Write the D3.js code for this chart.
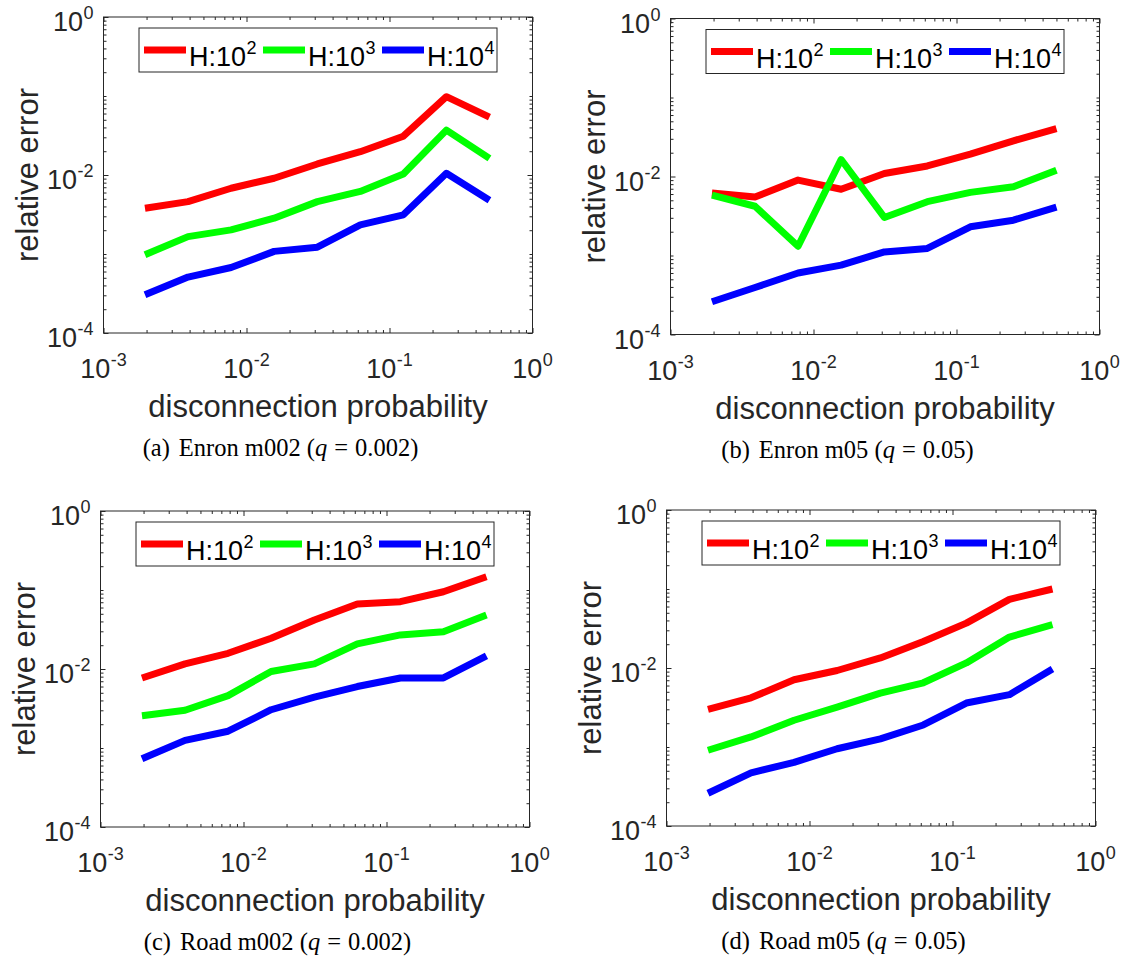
<!DOCTYPE html>
<html>
<head>
<meta charset="utf-8">
<script src="https://cdn.jsdelivr.net/npm/d3@7"></script>
<style>
  body { margin: 0; background: #fff; }
  text { font-family: "Liberation Sans", Arial, sans-serif; }
</style>
</head>
<body>
<div id="chart"></div>
<script>
// disconnection probabilities (x values, same for every panel)
var probs = [0.00195, 0.0039, 0.0078, 0.0156, 0.0313, 0.0625, 0.125, 0.25, 0.5];

// relative error, one array per panel and per H
var enronM002H2 = [0.0038, 0.0046, 0.0068, 0.0091, 0.0138, 0.0197, 0.031, 0.098, 0.054];
var enronM002H3 = [0.00098, 0.00166, 0.00202, 0.00284, 0.0046, 0.0062, 0.0103, 0.037, 0.0162];
var enronM002H4 = [0.000305, 0.00051, 0.000675, 0.00108, 0.00122, 0.00234, 0.00313, 0.0105, 0.0048];

var enronM05H2 = [0.0062, 0.0055, 0.009, 0.0069, 0.0109, 0.0136, 0.0192, 0.0283, 0.0405];
var enronM05H3 = [0.0058, 0.0042, 0.00131, 0.0164, 0.00303, 0.0048, 0.0063, 0.0074, 0.012];
var enronM05H4 = [0.00026, 0.000394, 0.0006, 0.000755, 0.00111, 0.00123, 0.00231, 0.0028, 0.0041];

var roadM002H2 = [0.0077, 0.0116, 0.0158, 0.0245, 0.0417, 0.0664, 0.0711, 0.095, 0.147];
var roadM002H3 = [0.00256, 0.003, 0.0046, 0.0093, 0.0116, 0.0208, 0.027, 0.0297, 0.0482];
var roadM002H4 = [0.00073, 0.00125, 0.00163, 0.00305, 0.0044, 0.006, 0.0077, 0.0077, 0.0147];

var roadM05H2 = [0.003, 0.0042, 0.0071, 0.0093, 0.0134, 0.0217, 0.037, 0.074, 0.1];
var roadM05H3 = [0.00091, 0.00134, 0.00218, 0.0032, 0.0048, 0.0065, 0.0116, 0.0246, 0.0353];
var roadM05H4 = [0.00026, 0.00047, 0.00064, 0.00095, 0.00127, 0.0019, 0.0036, 0.0046, 0.0097];

var legendExps = ["2", "3", "4"];
var colors = ["#ff0000", "#00ff00", "#0000ff"];
var xMajor = [1e-3, 1e-2, 1e-1, 1];
var yMajor = [1e-4, 1e-2, 1];

var W = 429, H = 316;
var ink = "#262626";

var panels = [
  {left: 103.5, top: 17,    tag: "(a)", name: "Enron m002 (", q: "0.002)", series: [enronM002H2, enronM002H3, enronM002H4]},
  {left: 670.5, top: 18.5,  tag: "(b)", name: "Enron m05 (",  q: "0.05)",  series: [enronM05H2, enronM05H3, enronM05H4]},
  {left: 100.5, top: 511,   tag: "(c)", name: "Road m002 (",  q: "0.002)", series: [roadM002H2, roadM002H3, roadM002H4]},
  {left: 666.5, top: 510,   tag: "(d)", name: "Road m05 (",   q: "0.05)",  series: [roadM05H2, roadM05H3, roadM05H4]}
];

var svg = d3.select("#chart").append("svg")
    .attr("width", 1126)
    .attr("height", 965)
    .style("background", "#fff");

// base text + raised exponent as two separate text nodes
// align: "start", "middle" or "end" relative to (px, py), py is the baseline
function powLabel(parent, px, py, base, exp, align, fill) {
  var lab = parent.append("g");
  var t1 = lab.append("text").attr("x", 0).attr("y", 0)
    .attr("fill", fill).style("font-size", "27px").text(base);
  var w1 = t1.node().getComputedTextLength() || base.length * 15;
  var t2 = lab.append("text").attr("x", w1 + 0.5).attr("y", -12)
    .attr("fill", fill).style("font-size", "18px").text(exp);
  var w2 = t2.node().getComputedTextLength() || exp.length * 10;
  var total = w1 + 0.5 + w2;
  var shift = align === "middle" ? -total / 2 : (align === "end" ? -total : 0);
  lab.attr("transform", "translate(" + (px + shift) + "," + py + ")");
}

panels.forEach(function(p) {
  var g = svg.append("g").attr("transform", "translate(" + p.left + "," + p.top + ")");

  var x = d3.scaleLog().domain([1e-3, 1]).range([0, W]);
  var y = d3.scaleLog().domain([1e-4, 1]).range([H, 0]);

  var xMinor = x.ticks().filter(function(v) { return xMajor.indexOf(v) < 0; });
  var yMinor = y.ticks().filter(function(v) { return yMajor.indexOf(v) < 0; });

  // inward ticks on all four sides
  var axes = [
    [d3.axisBottom(x), "translate(0," + H + ")", xMinor, xMajor],
    [d3.axisTop(x), "translate(0,0)", xMinor, xMajor],
    [d3.axisLeft(y), "translate(0,0)", yMinor, yMajor],
    [d3.axisRight(y), "translate(" + W + ",0)", yMinor, yMajor]
  ];
  axes.forEach(function(a) {
    var minor = g.append("g").attr("transform", a[1])
      .call(a[0].tickValues(a[2]).tickSize(-3).tickFormat(""));
    var major = g.append("g").attr("transform", a[1])
      .call(a[0].tickValues(a[3]).tickSize(-5).tickFormat(""));
    [minor, major].forEach(function(s) {
      s.select(".domain").remove();
      s.selectAll("line").attr("stroke", ink).attr("stroke-width", 1);
      s.selectAll("text").remove();
    });
  });

  g.append("rect")
    .attr("width", W).attr("height", H)
    .attr("fill", "none").attr("stroke", ink).attr("stroke-width", 1);

  // tick labels
  xMajor.forEach(function(v) {
    powLabel(g, x(v), H + 45, "10", String(Math.round(Math.log10(v))), "middle", ink);
  });
  yMajor.forEach(function(v) {
    powLabel(g, -10, y(v) + 14, "10", String(Math.round(Math.log10(v))), "end", ink);
  });

  // axis titles
  g.append("text")
    .attr("x", W / 2).attr("y", H + 84)
    .attr("text-anchor", "middle").attr("fill", ink)
    .style("font-size", "31px")
    .text("disconnection probability");
  g.append("text")
    .attr("transform", "translate(-66," + (H / 2) + ") rotate(-90)")
    .attr("text-anchor", "middle").attr("fill", ink)
    .style("font-size", "31px")
    .text("relative error");

  // data lines
  var line = d3.line()
    .x(function(d, i) { return x(probs[i]); })
    .y(function(d) { return y(d); });

  p.series.forEach(function(s, i) {
    g.append("path")
      .datum(s)
      .attr("fill", "none")
      .attr("stroke", colors[i])
      .attr("stroke-width", 7)
      .attr("stroke-linejoin", "round")
      .attr("d", line);
  });

  // legend
  var lg = g.append("g").attr("transform", "translate(35.5,11)");
  lg.append("rect")
    .attr("width", 358).attr("height", 44)
    .attr("fill", "#fff").attr("stroke", ink).attr("stroke-width", 1);
  legendExps.forEach(function(e, i) {
    var ox = 119 * i;
    lg.append("line")
      .attr("x1", ox + 5).attr("x2", ox + 47)
      .attr("y1", 22).attr("y2", 22)
      .attr("stroke", colors[i]).attr("stroke-width", 7);
    powLabel(lg, ox + 50, 38, "H:10", e, "start", "#000");
  });

  // caption under the panel
  var cap = g.append("text")
    .attr("x", 177).attr("y", H + 123)
    .attr("text-anchor", "middle")
    .attr("fill", "#000")
    .style("font-family", "'Liberation Serif', 'Times New Roman', serif")
    .style("font-size", "24.5px");
  cap.append("tspan").text(p.tag);
  cap.append("tspan").attr("dx", 9).text(p.name);
  cap.append("tspan").style("font-style", "italic").text("q");
  cap.append("tspan").attr("dx", 7).text("=");
  cap.append("tspan").attr("dx", 7).text(p.q);
});
</script>
</body>
</html>
